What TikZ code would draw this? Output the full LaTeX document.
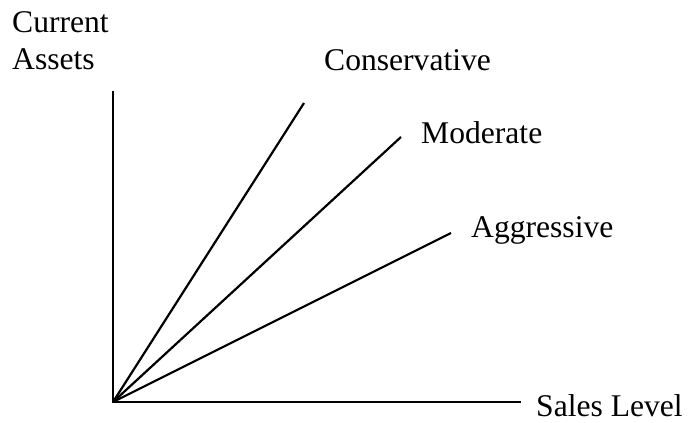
\documentclass[tikz,border=0pt]{standalone}
\usepackage{fontspec}
\setmainfont{Liberation Serif}
\begin{document}
\begin{tikzpicture}[x=1pt,y=-1pt,
    axis/.style={line width=2.6pt},
    ray/.style={line width=2.2pt},
    lbl/.style={inner sep=0pt,anchor=base west,font=\fontsize{31.6}{37}\selectfont}]
    \useasboundingbox (0,0) rectangle (689,423);
    % axes
    \coordinate (o) at (113,402);
    \coordinate (ytop) at (113,91);
    \coordinate (xend) at (521,402);
    \draw[axis] (ytop) -- (o) -- (xend);

    % ends of the three lines
    \coordinate (cons) at (304,103);
    \coordinate (mod) at (401,137);
    \coordinate (aggr) at (451,233);
    \draw[ray] (o) -- (cons);
    \draw[ray] (o) -- (mod);
    \draw[ray] (o) -- (aggr);

    \node[lbl] (current) at (12,32) {Current};
    \node[lbl] (assets) at (12,69) {Assets};
    \node[lbl] (conslbl) at (324,70) {Conservative};
    \node[lbl] (modlbl) at (421,143) {Moderate};
    \node[lbl] (aggrlbl) at (471,237) {Aggressive};
    \node[lbl] (sales) at (536,416) {Sales Level};
\end{tikzpicture}
\end{document}
